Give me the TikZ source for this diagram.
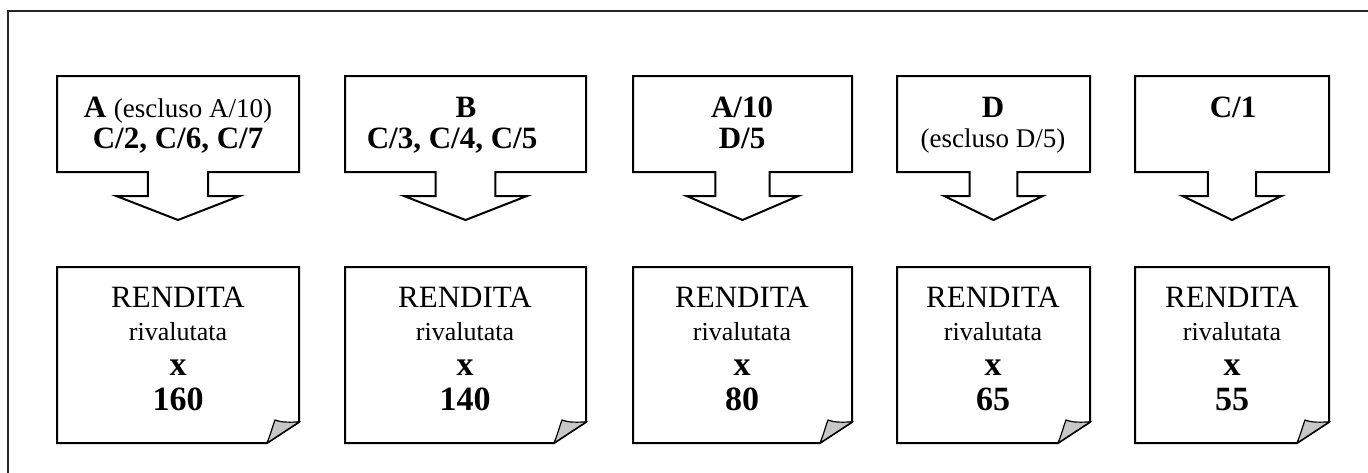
\documentclass[tikz,border=0pt]{standalone}
\usepackage{fontspec}
\setmainfont{Liberation Serif}
\begin{document}
\begin{tikzpicture}[x=1pt,y=-1pt,line width=2pt,line join=miter,
  bigb/.style={font=\fontsize{31}{34}\selectfont\bfseries},
  smr/.style={font=\fontsize{27}{30}\selectfont},
  rend/.style={font=\fontsize{31}{34}\selectfont},
  riv/.style={font=\fontsize{26}{30}\selectfont},
  numb/.style={font=\fontsize{34}{38}\selectfont\bfseries},
  txt/.style={anchor=base,inner sep=0pt},
  fold/.style={fill=black!22,line width=1.2pt}]
\useasboundingbox (0,0) rectangle (1368,472);
\draw[black!85] (1369,11) -- (8,11) -- (8,473);
% callout boxes with arrows and note boxes
\foreach \l/\r in {57/299,345/586,633/852,897/1090,1135/1329}{
  \pgfmathsetmacro{\c}{(\l+\r)/2}
  \pgfmathsetmacro{\s}{0.124*(\r-\l)}
  \pgfmathsetmacro{\w}{0.255*(\r-\l)}
  \draw (\l,76) -- (\r,76) -- (\r,172) -- (\c+\s,172) -- (\c+\s,196) -- (\c+\w,196)
    -- (\c,220) -- (\c-\w,196) -- (\c-\s,196) -- (\c-\s,172) -- (\l,172) -- cycle;
  \draw (\l,267) -- (\r,267) -- (\r,422) -- (\r-32,443) -- (\l,443) -- cycle;
  \draw[fold] (\r-32,443) .. controls (\r-28,433) and (\r-26,425) .. (\r-24,420)
    .. controls (\r-16,423) and (\r-8,422) .. (\r,422) -- cycle;
}
% top texts
\node[txt] (a1) at (178,117) {\fontsize{31}{34}\selectfont\bfseries A \mdseries\fontsize{27}{30}\selectfont(escluso A/10)};
\node[txt,bigb] (a2) at (178,148) {C/2, C/6, C/7};
\node[txt,bigb] (b1) at (466,117) {B};
\node[txt,bigb] (b2) at (452,148) {C/3, C/4, C/5};
\node[txt,bigb] (c1) at (742,117) {A/10};
\node[txt,bigb] (c2) at (742,148) {D/5};
\node[txt,bigb] (d1) at (993,117) {D};
\node[txt,smr] (d2) at (993,147) {(escluso D/5)};
\node[txt,bigb] (e1) at (1233,117) {C/1};
% bottom texts
\foreach \x/\v/\n in {178/160/a,465/140/b,742/80/c,993/65/d,1232/55/e}{
  \node[txt,rend] (\n r) at (\x,307) {RENDITA};
  \node[txt,riv] (\n v) at (\x,340) {rivalutata};
  \node[txt,numb] (\n x) at (\x,375) {x};
  \node[txt,numb] (\n n) at (\x,410) {\v};
}
\end{tikzpicture}
\end{document}
